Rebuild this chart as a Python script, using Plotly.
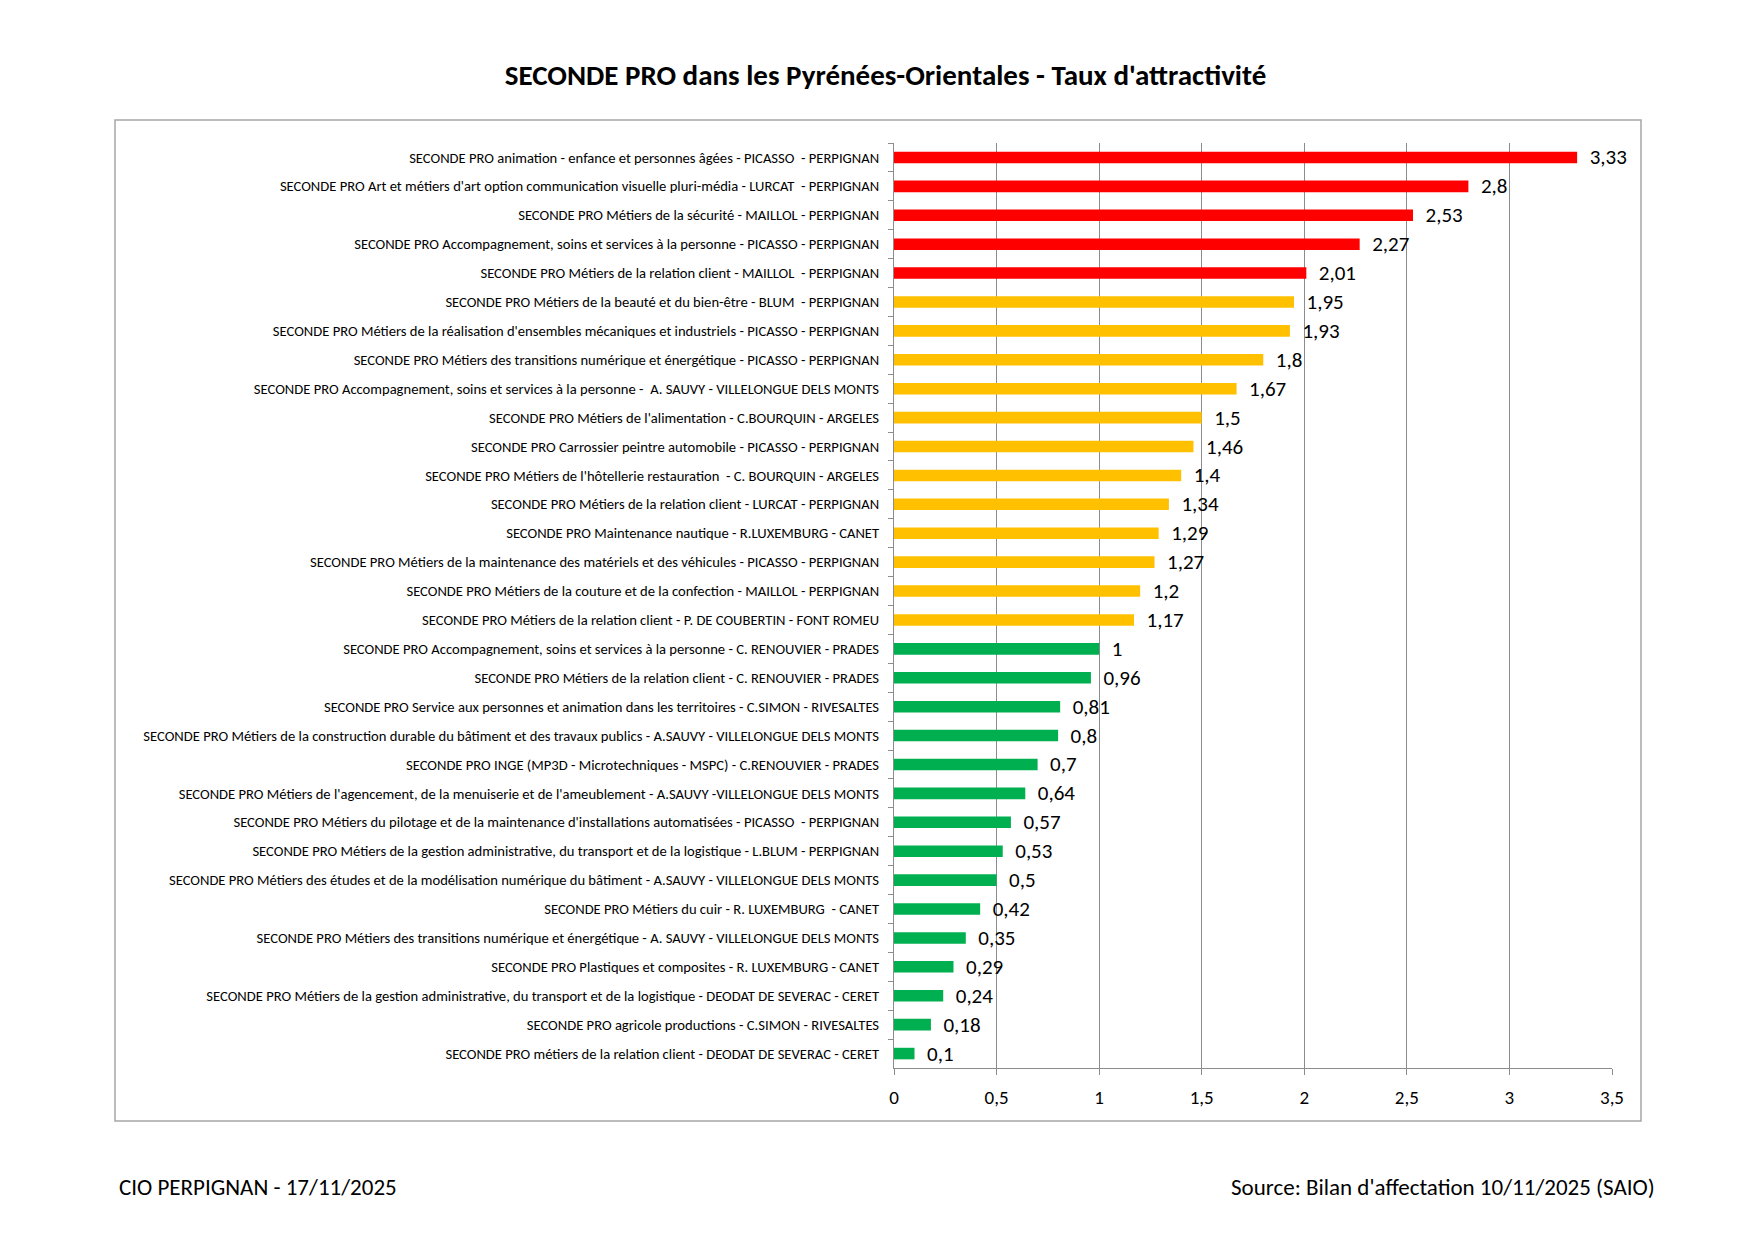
import plotly.graph_objects as go

# Formations (top to bottom) and their attractiveness rate
formations = [
    "SECONDE PRO animation - enfance et personnes âgées - PICASSO  - PERPIGNAN",
    "SECONDE PRO Art et métiers d'art option communication visuelle pluri-média - LURCAT  - PERPIGNAN",
    "SECONDE PRO Métiers de la sécurité - MAILLOL - PERPIGNAN",
    "SECONDE PRO Accompagnement, soins et services à la personne - PICASSO - PERPIGNAN",
    "SECONDE PRO Métiers de la relation client - MAILLOL  - PERPIGNAN",
    "SECONDE PRO Métiers de la beauté et du bien-être - BLUM  - PERPIGNAN",
    "SECONDE PRO Métiers de la réalisation d'ensembles mécaniques et industriels - PICASSO - PERPIGNAN",
    "SECONDE PRO Métiers des transitions numérique et énergétique - PICASSO - PERPIGNAN",
    "SECONDE PRO Accompagnement, soins et services à la personne -  A. SAUVY - VILLELONGUE DELS MONTS",
    "SECONDE PRO Métiers de l'alimentation - C.BOURQUIN - ARGELES",
    "SECONDE PRO Carrossier peintre automobile - PICASSO - PERPIGNAN",
    "SECONDE PRO Métiers de l'hôtellerie restauration  - C. BOURQUIN - ARGELES",
    "SECONDE PRO Métiers de la relation client - LURCAT - PERPIGNAN",
    "SECONDE PRO Maintenance nautique - R.LUXEMBURG - CANET",
    "SECONDE PRO Métiers de la maintenance des matériels et des véhicules - PICASSO - PERPIGNAN",
    "SECONDE PRO Métiers de la couture et de la confection - MAILLOL - PERPIGNAN",
    "SECONDE PRO Métiers de la relation client - P. DE COUBERTIN - FONT ROMEU",
    "SECONDE PRO Accompagnement, soins et services à la personne - C. RENOUVIER - PRADES",
    "SECONDE PRO Métiers de la relation client - C. RENOUVIER - PRADES",
    "SECONDE PRO Service aux personnes et animation dans les territoires - C.SIMON - RIVESALTES",
    "SECONDE PRO Métiers de la construction durable du bâtiment et des travaux publics - A.SAUVY - VILLELONGUE DELS MONTS",
    "SECONDE PRO INGE (MP3D - Microtechniques - MSPC) - C.RENOUVIER - PRADES",
    "SECONDE PRO Métiers de l'agencement, de la menuiserie et de l'ameublement - A.SAUVY -VILLELONGUE DELS MONTS",
    "SECONDE PRO Métiers du pilotage et de la maintenance d'installations automatisées - PICASSO  - PERPIGNAN",
    "SECONDE PRO Métiers de la gestion administrative, du transport et de la logistique - L.BLUM - PERPIGNAN",
    "SECONDE PRO Métiers des études et de la modélisation numérique du bâtiment - A.SAUVY - VILLELONGUE DELS MONTS",
    "SECONDE PRO Métiers du cuir - R. LUXEMBURG  - CANET",
    "SECONDE PRO Métiers des transitions numérique et énergétique - A. SAUVY - VILLELONGUE DELS MONTS",
    "SECONDE PRO Plastiques et composites - R. LUXEMBURG - CANET",
    "SECONDE PRO Métiers de la gestion administrative, du transport et de la logistique - DEODAT DE SEVERAC - CERET",
    "SECONDE PRO agricole productions - C.SIMON - RIVESALTES",
    "SECONDE PRO métiers de la relation client - DEODAT DE SEVERAC - CERET",
]

taux = [3.33, 2.8, 2.53, 2.27, 2.01, 1.95, 1.93, 1.8, 1.67, 1.5, 1.46, 1.4,
        1.34, 1.29, 1.27, 1.2, 1.17, 1, 0.96, 0.81, 0.8, 0.7, 0.64, 0.57,
        0.53, 0.5, 0.42, 0.35, 0.29, 0.24, 0.18, 0.1]

# colour group per bar: red = high, yellow = middle, green = low
groupes = ["haut"] * 5 + ["moyen"] * 12 + ["bas"] * 15
couleurs = {"haut": "#FF0000", "moyen": "#FFC000", "bas": "#00B050"}

x_ticks = [0, 0.5, 1, 1.5, 2, 2.5, 3, 3.5]

FONT = "Carlito, Calibri, Lato, sans-serif"
GRID = "#8C8C8C"

labels = ["\u00a0\u00a0" + f"{v:g}".replace(".", ",") for v in taux]

fig = go.Figure()
fig.add_trace(go.Bar(
    x=taux,
    y=formations,
    orientation="h",
    marker=dict(color=[couleurs[g] for g in groupes], line=dict(width=0)),
    width=0.4,
    text=labels,
    textposition="outside",
    constraintext="none",
    cliponaxis=False,
    textfont=dict(family=FONT, size=21, color="black"),
    hoverinfo="x+y",
))

W, H = 1755, 1241
L, R, T, B = 886, 151, 135, 181
pw, ph = W - L - R, H - T - B


def px(xp):
    return (xp - L) / pw


def py(yp):
    return (H - B - yp) / ph


fig.update_layout(
    width=W, height=H,
    margin=dict(l=L, r=R, t=T, b=B),
    paper_bgcolor="white",
    plot_bgcolor="white",
    showlegend=False,
    font=dict(family=FONT, color="black"),
    title=dict(
        text="<b>SECONDE PRO dans les Pyrénées-Orientales - Taux d'attractivité</b>",
        x=0.5, xanchor="center",
        y=1 - 67 / H, yanchor="middle",
        font=dict(family=FONT, size=29, color="black"),
    ),
    xaxis=dict(
        range=[0, 3.5],
        tickvals=x_ticks,
        ticktext=[f"{t:g}".replace(".", ",") for t in x_ticks],
        showgrid=True, gridcolor=GRID, gridwidth=1,
        showline=True, linecolor=GRID, linewidth=1,
        ticks="outside", ticklen=6, tickcolor=GRID,
        ticklabelstandoff=6,
        tickfont=dict(family=FONT, size=19),
        zeroline=False,
        fixedrange=True,
    ),
    yaxis=dict(
        type="category",
        autorange="reversed",
        showline=True, linecolor=GRID, linewidth=1,
        ticks="outside", ticklen=5, tickcolor=GRID,
        tickson="boundaries",
        ticklabelstandoff=11,
        tickfont=dict(family=FONT, size=14.6),
        showgrid=False,
        fixedrange=True,
    ),
    shapes=[dict(
        type="rect", xref="paper", yref="paper",
        x0=px(107), x1=px(1633), y0=py(1113), y1=py(112),
        line=dict(color="#A6A6A6", width=1.5),
        fillcolor="rgba(0,0,0,0)",
        layer="below",
    )],
    annotations=[
        dict(text="CIO PERPIGNAN - 17/11/2025", xref="paper", yref="paper",
             x=px(109), y=py(1179), xanchor="left", yanchor="middle",
             showarrow=False, font=dict(family=FONT, size=23)),
        dict(text="Source: Bilan d'affectation 10/11/2025 (SAIO)", xref="paper", yref="paper",
             x=px(1649), y=py(1179), xanchor="right", yanchor="middle",
             showarrow=False, font=dict(family=FONT, size=23)),
    ],
)

fig.write_html("out.html")
